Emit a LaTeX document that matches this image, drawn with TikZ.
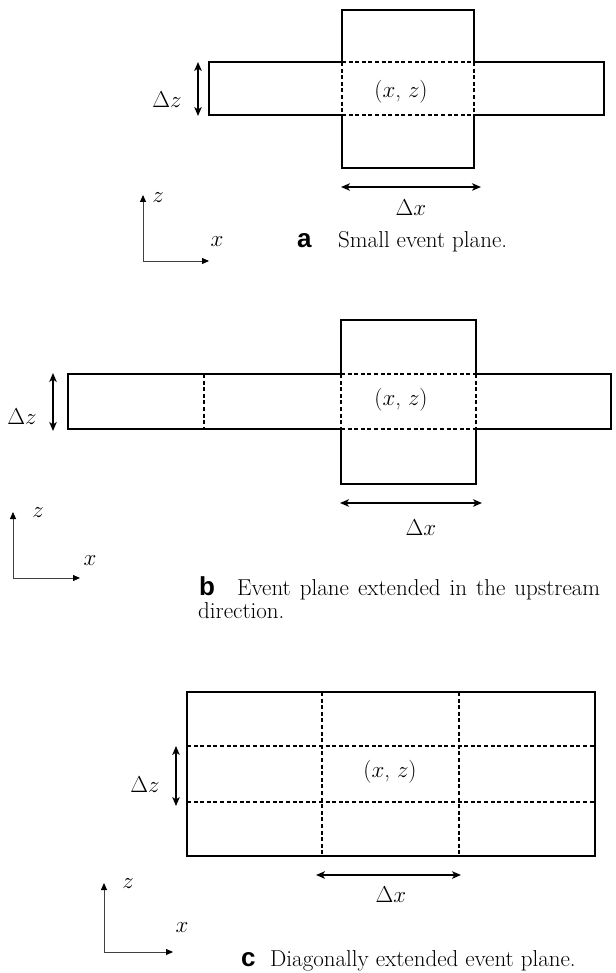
\RequirePackage{fix-cm}
\documentclass[tikz,border=0pt]{standalone}
\usepackage{fontspec}
\newfontfamily\capsf{Liberation Sans}
\usetikzlibrary{arrows.meta}
\begin{document}
\begin{tikzpicture}[x=1pt,y=-1pt,
  bord/.style={line width=1.8pt, line join=miter, line cap=rect},
  dsh/.style={line width=1.4pt, dash pattern=on 4pt off 2.6pt},
  dim/.style={line width=1.7pt, {Stealth[length=9pt,width=7.5pt,inset=2.5pt]}-{Stealth[length=9pt,width=7.5pt,inset=2.5pt]}},
  axis/.style={line width=0.9pt, draw=black!75, -{Triangle[length=7pt,width=6pt,color=black]}},
  lbl/.style={font=\fontsize{23}{27}\selectfont, inner sep=0pt},
  captxt/.style={font=\fontsize{23}{27}\selectfont, inner sep=0pt, anchor=base west},
  capltr/.style={font=\capsf\bfseries\fontsize{26}{28}\selectfont, inner sep=0pt, anchor=base west},
]
\useasboundingbox (0,0) rectangle (615,973);

% ================= panel a =================
\draw[bord] (342,62) -- (209,62) -- (209,115) -- (342,115);
\draw[bord] (474,62) -- (604,62) -- (604,115) -- (474,115);
\draw[bord] (342,62) -- (342,10) -- (474,10) -- (474,62);
\draw[bord] (342,115) -- (342,168) -- (474,168) -- (474,115);
\draw[dsh] (342,62) -- (474,62);
\draw[dsh] (342,115) -- (474,115);
\draw[dsh] (342,62) -- (342,115);
\draw[dsh] (474,62) -- (474,115);

\coordinate (a-dz1) at (198,62);
\coordinate (a-dz2) at (198,116);
\draw[dim] (a-dz1) -- (a-dz2);
\node[lbl] (a-dzl) at (167,100) {$\Delta z$};
\node[lbl] (a-xz) at (401,92) {($x$, $z$)};
\coordinate (a-dx1) at (341,187);
\coordinate (a-dx2) at (481,187);
\draw[dim] (a-dx1) -- (a-dx2);
\node[lbl] (a-dxl) at (411,208) {$\Delta x$};

\coordinate (a-o) at (143,261);
\coordinate (a-zt) at (143,195);
\coordinate (a-xt) at (209,261);
\draw[axis] (a-o) -- (a-zt);
\draw[axis] (a-o) -- (a-xt);
\node[lbl] (a-z) at (158,198) {$z$};
\node[lbl] (a-x) at (217,242) {$x$};

\node[capltr] (a-cl) at (297,248) {a};
\node[captxt] (a-ct) at (338,248) {Small event plane.};

% ================= panel b =================
\draw[bord] (341,374) -- (68,374) -- (68,429) -- (341,429);
\draw[bord] (476,374) -- (611,374) -- (611,429) -- (476,429);
\draw[bord] (341,374) -- (341,320) -- (476,320) -- (476,374);
\draw[bord] (341,429) -- (341,484) -- (476,484) -- (476,429);
\draw[dsh] (341,374) -- (476,374);
\draw[dsh] (341,429) -- (476,429);
\draw[dsh] (341,374) -- (341,429);
\draw[dsh] (476,374) -- (476,429);
\draw[dsh] (204,374) -- (204,429);

\coordinate (b-dz1) at (53,373);
\coordinate (b-dz2) at (53,431);
\draw[dim] (b-dz1) -- (b-dz2);
\node[lbl] (b-dzl) at (22,417) {$\Delta z$};
\node[lbl] (b-xz) at (401,400) {($x$, $z$)};
\coordinate (b-dx1) at (340,503);
\coordinate (b-dx2) at (482,503);
\draw[dim] (b-dx1) -- (b-dx2);
\node[lbl] (b-dxl) at (421,528) {$\Delta x$};

\coordinate (b-o) at (13,578);
\coordinate (b-zt) at (13,512);
\coordinate (b-xt) at (80,578);
\draw[axis] (b-o) -- (b-zt);
\draw[axis] (b-o) -- (b-xt);
\node[lbl] (b-z) at (38,513) {$z$};
\node[lbl] (b-x) at (90,561) {$x$};

\node[capltr] (b-cl) at (199,595) {b};
\node[captxt] (b-ct) at (237,595) {\makebox[363pt][s]{Event plane extended in the upstream}};
\node[captxt] (b-ct2) at (198,618) {direction.};

% ================= panel c =================
\draw[dsh] (322,692) -- (322,856);
\draw[dsh] (459,692) -- (459,856);
\draw[dsh] (187,746) -- (595,746);
\draw[dsh] (187,802) -- (595,802);
\draw[bord] (187,692) rectangle (595,856);

\coordinate (c-dz1) at (176,746);
\coordinate (c-dz2) at (176,806);
\draw[dim] (c-dz1) -- (c-dz2);
\node[lbl] (c-dzl) at (145,785) {$\Delta z$};
\node[lbl] (c-xz) at (390,772) {($x$, $z$)};
\coordinate (c-dx1) at (316,875);
\coordinate (c-dx2) at (461,875);
\draw[dim] (c-dx1) -- (c-dx2);
\node[lbl] (c-dxl) at (391,895) {$\Delta x$};

\coordinate (c-o) at (104,952);
\coordinate (c-zt) at (104,883);
\coordinate (c-xt) at (173,952);
\draw[axis] (c-o) -- (c-zt);
\draw[axis] (c-o) -- (c-xt);
\node[lbl] (c-z) at (128,884) {$z$};
\node[lbl] (c-x) at (182,928) {$x$};

\node[capltr] (c-cl) at (241,966) {c};
\node[captxt] (c-ct) at (270,966) {Diagonally extended event plane.};
\end{tikzpicture}
\end{document}
